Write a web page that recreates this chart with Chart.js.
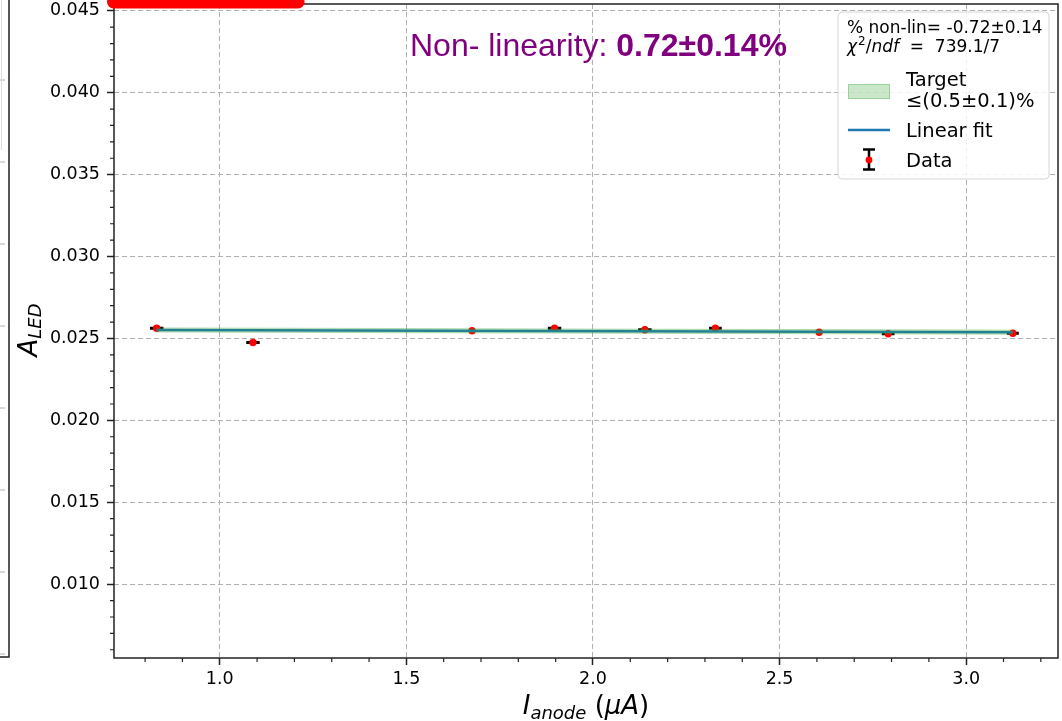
<!DOCTYPE html>
<html><head><meta charset="utf-8">
<script src="https://cdn.jsdelivr.net/npm/chart.js@4.4.1/dist/chart.umd.min.js"></script>
<style>html,body{margin:0;padding:0;background:#fff;overflow:hidden}#wrap{width:1062px;height:721px}</style>
</head><body><div id="wrap"><canvas id="c" width="1062" height="721"></canvas></div>
<script>
// ---- data ----
const dataX    = [0.831, 1.089, 1.676, 1.897, 2.139, 2.328, 2.606, 2.791, 3.125];
const dataY    = [0.025627, 0.024757, 0.025469, 0.025627, 0.025529, 0.025627, 0.025383, 0.025286, 0.025322];
const dataXErr = [0.018, 0.018, 0.006, 0.018, 0.018, 0.017, 0.006, 0.017, 0.016];
const fitX     = [0.831, 3.125];
const fitY     = [0.025517, 0.025383];
const bandUpper = [0.025645, 0.025510];
const bandLower = [0.025389, 0.025256];
const redBarX  = [0.7152, 1.2099];
const redBarY  = [0.045536, 0.045536];
const xMajorTicks = [1.0, 1.5, 2.0, 2.5, 3.0];
const yMajorTicks = [0.010, 0.015, 0.020, 0.025, 0.030, 0.035, 0.040, 0.045];
const xRange = [0.7166, 3.246];
const yRange = [0.005496, 0.045414];
const legendLines = ['% non-lin= -0.72\u00b10.14', '739.1/7'];
const legendLabels = ['Target', '\u2264(0.5\u00b10.1)%', 'Linear fit', 'Data'];
const annotationText = ['Non- linearity: ', '0.72\u00b10.14%'];

const xMinorTicks = [], yMinorTicks = [];
for (let i = 8; i <= 32; i++) if (i % 5 !== 0) xMinorTicks.push(i / 10);
for (let i = 6; i <= 45; i++) if (i % 5 !== 0) yMinorTicks.push(i / 1000);

const pts = (xs, ys) => xs.map((x, i) => ({x: x, y: ys[i]}));
const DV = 'DejaVu Sans';

const custom = {
  id: 'custom',
  beforeDatasetsDraw(chart) {
    const ctx = chart.ctx, a = chart.chartArea, xs = chart.scales.x, ys = chart.scales.y;
    ctx.save();
    // neighbouring panel fragment
    ctx.strokeStyle = '#b0b0b0'; ctx.lineWidth = 1; ctx.setLineDash([5, 3]);
    for (let k = 0; k < 8; k++) { const yy = 80 + 82 * k; ctx.beginPath(); ctx.moveTo(0, yy); ctx.lineTo(9, yy); ctx.stroke(); }
    ctx.setLineDash([]);
    ctx.strokeStyle = '#dddddd'; ctx.beginPath(); ctx.moveTo(1.5, 0); ctx.lineTo(1.5, 150); ctx.stroke();
    ctx.strokeStyle = '#222'; ctx.lineWidth = 1.5;
    ctx.beginPath(); ctx.moveTo(9, 0); ctx.lineTo(9, 657); ctx.lineTo(0, 657); ctx.stroke();
    // frame
    ctx.strokeRect(a.left, a.top, a.right - a.left, a.bottom - a.top);
    // minor ticks
    ctx.lineWidth = 1.2;
    ctx.beginPath();
    xMinorTicks.forEach(v => { const p = xs.getPixelForValue(v); ctx.moveTo(p, a.bottom); ctx.lineTo(p, a.bottom + 4); });
    yMinorTicks.forEach(v => { const p = ys.getPixelForValue(v); ctx.moveTo(a.left, p); ctx.lineTo(a.left - 4, p); });
    ctx.stroke();
    ctx.restore();
  },
  beforeDatasetDraw(chart, args) {
    if (args.index !== 3) return;
    const ctx = chart.ctx, xs = chart.scales.x, ys = chart.scales.y;
    ctx.save();
    ctx.strokeStyle = '#000'; ctx.lineWidth = 3;
    ctx.beginPath();
    dataX.forEach((x, i) => {
      const py = ys.getPixelForValue(dataY[i]);
      ctx.moveTo(xs.getPixelForValue(x - dataXErr[i]), py);
      ctx.lineTo(xs.getPixelForValue(x + dataXErr[i]), py);
    });
    ctx.stroke();
    ctx.restore();
  },
  afterDraw(chart) {
    const ctx = chart.ctx, a = chart.chartArea;
    ctx.save();
    ctx.textBaseline = 'alphabetic'; ctx.textAlign = 'left';
    // annotation
    ctx.fillStyle = '#800080';
    ctx.font = '32px "Liberation Sans"';
    ctx.fillText(annotationText[0], 410, 56);
    const w0 = ctx.measureText(annotationText[0]).width;
    ctx.font = 'bold 32px "Liberation Sans"';
    ctx.fillText(annotationText[1], 410 + w0, 56);

    // legend box
    const bx = 838, by = 12, bw = 211, bh = 167, r = 4;
    ctx.beginPath();
    ctx.moveTo(bx + r, by); ctx.lineTo(bx + bw - r, by); ctx.quadraticCurveTo(bx + bw, by, bx + bw, by + r);
    ctx.lineTo(bx + bw, by + bh - r); ctx.quadraticCurveTo(bx + bw, by + bh, bx + bw - r, by + bh);
    ctx.lineTo(bx + r, by + bh); ctx.quadraticCurveTo(bx, by + bh, bx, by + bh - r);
    ctx.lineTo(bx, by + r); ctx.quadraticCurveTo(bx, by, bx + r, by); ctx.closePath();
    ctx.fillStyle = 'rgba(255,255,255,0.85)'; ctx.fill();
    ctx.strokeStyle = '#d6d6d6'; ctx.lineWidth = 1; ctx.stroke();

    ctx.fillStyle = '#000';
    ctx.font = '17px "' + DV + '"';
    ctx.fillText(legendLines[0], 847, 33);
    // chi^2/ndf line
    let x = 847; const yb = 52;
    ctx.font = 'italic 17px "' + DV + '"'; ctx.fillText('\u03c7', x, yb); x += ctx.measureText('\u03c7').width + 1;
    ctx.font = '12px "' + DV + '"'; ctx.fillText('2', x, yb - 7); x += ctx.measureText('2').width;
    ctx.font = '17px "' + DV + '"'; ctx.fillText('/', x, yb); x += ctx.measureText('/').width;
    ctx.font = 'italic 17px "' + DV + '"'; ctx.fillText('ndf', x, yb); x += ctx.measureText('ndf').width;
    ctx.font = '17px "' + DV + '"'; ctx.fillText('  =  ' + legendLines[1], x, yb);

    // target patch
    ctx.fillStyle = 'rgba(44,160,44,0.25)'; ctx.fillRect(848, 84, 42, 15);
    ctx.strokeStyle = 'rgba(44,160,44,0.3)'; ctx.strokeRect(848.5, 84.5, 41, 14);
    ctx.fillStyle = '#000';
    ctx.font = '19.5px "' + DV + '"';
    ctx.fillText(legendLabels[0], 906, 86);
    ctx.fillText(legendLabels[1], 906, 107);
    // linear fit
    ctx.strokeStyle = '#1f77b4'; ctx.lineWidth = 2.5;
    ctx.beginPath(); ctx.moveTo(848, 130); ctx.lineTo(890, 130); ctx.stroke();
    ctx.fillText(legendLabels[2], 906, 137);
    // data icon
    ctx.strokeStyle = '#000'; ctx.lineWidth = 2.5;
    ctx.beginPath(); ctx.moveTo(869, 149); ctx.lineTo(869, 170);
    ctx.moveTo(863, 149.5); ctx.lineTo(875, 149.5); ctx.moveTo(863, 169.5); ctx.lineTo(875, 169.5); ctx.stroke();
    ctx.fillStyle = '#ff0000'; ctx.beginPath(); ctx.arc(869, 160, 3.4, 0, Math.PI * 2); ctx.fill();
    ctx.fillStyle = '#000';
    ctx.fillText(legendLabels[3], 906, 167);

    // x axis title: I_anode (μA)
    const parts = [
      ['italic 26px "' + DV + '"', 'I', 0],
      ['italic 18px "' + DV + '"', 'anode', 5],
      ['26px "' + DV + '"', ' (', 0],
      ['italic 26px "' + DV + '"', '\u03bcA', 0],
      ['26px "' + DV + '"', ')', 0]
    ];
    let tw = 0;
    parts.forEach(p => { ctx.font = p[0]; tw += ctx.measureText(p[1]).width; });
    x = (a.left + a.right) / 2 - tw / 2;
    parts.forEach(p => { ctx.font = p[0]; ctx.fillText(p[1], x, 714 + p[2]); x += ctx.measureText(p[1]).width; });

    // y axis title: A_LED
    ctx.translate(37, 330);
    ctx.rotate(-Math.PI / 2);
    const yparts = [
      ['italic 26px "' + DV + '"', 'A', 0],
      ['italic 18px "' + DV + '"', 'LED', 4]
    ];
    tw = 0;
    yparts.forEach(p => { ctx.font = p[0]; tw += ctx.measureText(p[1]).width; });
    x = -tw / 2;
    yparts.forEach(p => { ctx.font = p[0]; ctx.fillText(p[1], x, p[2]); x += ctx.measureText(p[1]).width; });
    ctx.restore();
  }
};

new Chart(document.getElementById('c'), {
  type: 'scatter',
  data: {
    datasets: [
      { data: pts(fitX, bandLower), showLine: true, borderColor: 'rgba(44,160,44,0.3)', borderWidth: 1, pointRadius: 0, fill: false },
      { data: pts(fitX, bandUpper), showLine: true, borderColor: 'rgba(44,160,44,0.3)', borderWidth: 1, pointRadius: 0, fill: '-1', backgroundColor: 'rgba(44,160,44,0.25)' },
      { data: pts(fitX, fitY), showLine: true, borderColor: '#1f77b4', borderWidth: 2.5, pointRadius: 0 },
      { data: pts(dataX, dataY), showLine: false, pointRadius: 3.7, pointBackgroundColor: '#ff0000', pointBorderWidth: 0, pointBorderColor: '#ff0000' },
      { data: pts(redBarX, redBarY), showLine: true, borderColor: '#ff0000', borderWidth: 13, borderCapStyle: 'round', pointRadius: 0, clip: false }
    ]
  },
  options: {
    responsive: false, animation: false, devicePixelRatio: 1,
    layout: { padding: { top: 2, right: 2, left: 0, bottom: 0 } },
    plugins: { legend: { display: false }, tooltip: { enabled: false } },
    scales: {
      x: {
        type: 'linear', min: xRange[0], max: xRange[1],
        afterBuildTicks: s => { s.ticks = xMajorTicks.map(v => ({ value: v })); },
        afterFit: s => { s.height = 63; s.paddingLeft = 0; s.paddingRight = 0; },
        ticks: { callback: v => Number(v).toFixed(1), font: { family: DV, size: 17.5 }, color: '#000', padding: 4, maxRotation: 0, autoSkip: false },
        grid: { color: '#b0b0b0', lineWidth: 1, tickColor: '#222', tickWidth: 1.5, tickLength: 7 },
        border: { display: false, dash: [5, 3] }
      },
      y: {
        type: 'linear', min: yRange[0], max: yRange[1],
        afterBuildTicks: s => { s.ticks = yMajorTicks.map(v => ({ value: v })); },
        afterFit: s => { s.width = 114; s.paddingTop = 0; s.paddingBottom = 0; },
        ticks: { callback: v => Number(v).toFixed(3), font: { family: DV, size: 17.5 }, color: '#000', padding: 7, autoSkip: false },
        grid: { color: '#b0b0b0', lineWidth: 1, tickColor: '#222', tickWidth: 1.5, tickLength: 7 },
        border: { display: false, dash: [5, 3] }
      }
    }
  },
  plugins: [custom]
});
</script>
</body></html>
